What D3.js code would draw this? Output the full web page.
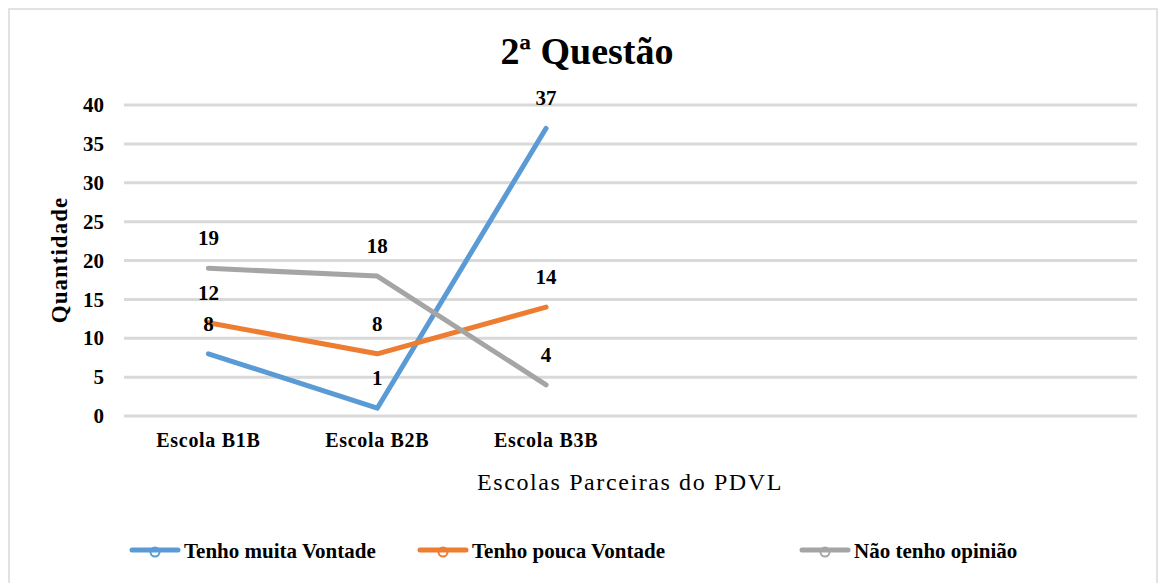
<!DOCTYPE html>
<html>
<head>
<meta charset="utf-8">
<title>2ª Questão</title>
<script src="https://cdn.jsdelivr.net/npm/d3@7"></script>
<style>
body, html {
  margin: 0;
  background: #fff;
}
.grid line {
  stroke: #d9d9d9;
  stroke-width: 3px;
}
</style>
</head>
<body>
<script>
// data
var categories = ["Escola B1B", "Escola B2B", "Escola B3B", "", " ", "  "];
var seriesNames = ["Tenho muita Vontade", "Tenho pouca Vontade", "Não tenho opinião"];
var muitaVontade = [8, 1, 37];
var poucaVontade = [12, 8, 14];
var semOpiniao = [19, 18, 4];
var yTicks = [0, 5, 10, 15, 20, 25, 30, 35, 40];
var colors = ["#5b9bd5", "#ed7d31", "#a5a5a5"];

var FONT = "'Liberation Serif', 'Times New Roman', 'DejaVu Serif', serif";

var series = [muitaVontade, poucaVontade, semOpiniao].map(function(v, i) {
  return {name: seriesNames[i], values: v, color: colors[i]};
});

var width = 1165, height = 583;
var margin = {top: 105, right: 28, bottom: 167, left: 124};

var svg = d3.select("body").append("svg")
  .attr("width", width)
  .attr("height", height)
  .style("font-family", FONT);

// outer frame
svg.append("rect")
  .attr("x", 9).attr("y", 9)
  .attr("width", 1148).attr("height", 620)
  .attr("fill", "#fff")
  .attr("stroke", "#d9d9d9")
  .attr("stroke-width", 1.5);

var x = d3.scaleBand()
  .domain(categories)
  .range([margin.left, width - margin.right]);

var y = d3.scaleLinear()
  .domain([0, 40])
  .range([height - margin.bottom, margin.top]);

function boldText(sel, size) {
  sel.style("font-family", FONT)
    .style("font-size", size + "px")
    .style("font-weight", "bold")
    .attr("fill", "#000");
}

// gridlines
svg.append("g").attr("class", "grid")
  .selectAll("line")
  .data(yTicks)
  .enter().append("line")
  .attr("x1", margin.left).attr("x2", width - margin.right)
  .attr("y1", function(d) { return y(d); })
  .attr("y2", function(d) { return y(d); });

// y axis labels
var yAxis = d3.axisLeft(y).tickValues(yTicks).tickSize(0).tickPadding(20);
var gy = svg.append("g")
  .attr("transform", "translate(" + margin.left + ",0)")
  .call(yAxis);
gy.select(".domain").remove();
gy.selectAll("text").call(boldText, 21);

// x axis labels
var xAxis = d3.axisBottom(x).tickSize(0).tickPadding(17).tickFormat(function(d) { return d.trim(); });
var gx = svg.append("g")
  .attr("transform", "translate(0," + y(0) + ")")
  .call(xAxis);
gx.select(".domain").remove();
gx.selectAll("text").call(boldText, 20).style("letter-spacing", "0.7px");

// title
svg.append("text")
  .attr("x", 587).attr("y", 64)
  .attr("text-anchor", "middle")
  .call(boldText, 38)
  .text("2ª Questão");

// axis titles
svg.append("text")
  .attr("transform", "translate(67,260) rotate(-90)")
  .attr("text-anchor", "middle")
  .call(boldText, 23)
  .style("letter-spacing", "1px")
  .text("Quantidade");

svg.append("text")
  .attr("x", 630).attr("y", 490)
  .attr("text-anchor", "middle")
  .style("font-family", FONT)
  .style("font-size", "24px")
  .style("letter-spacing", "1.6px")
  .attr("fill", "#000")
  .text("Escolas Parceiras do PDVL");

// lines
var line = d3.line()
  .x(function(d, i) { return x(categories[i]) + x.bandwidth() / 2; })
  .y(function(d) { return y(d); });

svg.append("g").selectAll("path")
  .data(series)
  .enter().append("path")
  .attr("d", function(s) { return line(s.values); })
  .attr("fill", "none")
  .attr("stroke", function(s) { return s.color; })
  .attr("stroke-width", 5)
  .attr("stroke-linecap", "round")
  .attr("stroke-linejoin", "round");

// data labels
series.forEach(function(s) {
  svg.append("g").selectAll("text")
    .data(s.values)
    .enter().append("text")
    .attr("x", function(d, i) { return x(categories[i]) + x.bandwidth() / 2; })
    .attr("y", function(d) { return y(d) - 23; })
    .attr("text-anchor", "middle")
    .call(boldText, 21)
    .text(function(d) { return d; });
});

// legend
var legendX = [130, 418, 800];
var legend = svg.append("g").selectAll("g")
  .data(series)
  .enter().append("g")
  .attr("transform", function(d, i) { return "translate(" + legendX[i] + ",550)"; });

legend.append("circle")
  .attr("cx", 25).attr("cy", 2).attr("r", 4.5)
  .attr("fill", "#fff")
  .attr("stroke", function(s) { return s.color; })
  .attr("stroke-width", 2);
legend.append("line")
  .attr("x1", 2).attr("x2", 48)
  .attr("stroke", function(s) { return s.color; })
  .attr("stroke-width", 5)
  .attr("stroke-linecap", "round");
legend.append("text")
  .attr("x", 54).attr("y", 8)
  .call(boldText, 21)
  .text(function(s) { return s.name; });
</script>
</body>
</html>
